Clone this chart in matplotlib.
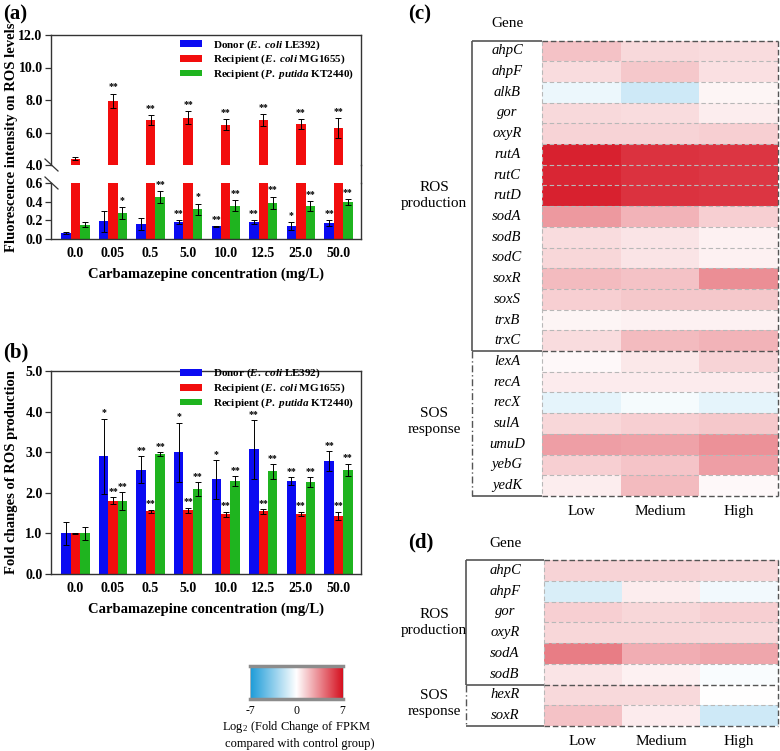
import numpy as np
import matplotlib
matplotlib.use('Agg')
import matplotlib.pyplot as plt
from matplotlib.colors import LinearSegmentedColormap
from matplotlib.patches import Patch
from matplotlib.lines import Line2D

plt.rcParams['font.family'] = ['Liberation Serif', 'DejaVu Serif']
plt.rcParams['mathtext.fontset'] = 'custom'
plt.rcParams['mathtext.rm'] = 'Liberation Serif:bold'
plt.rcParams['mathtext.it'] = 'Liberation Serif:italic:bold'
plt.rcParams['mathtext.bf'] = 'Liberation Serif:bold'
plt.rcParams['mathtext.sf'] = 'Liberation Serif'

# ---------------- data ----------------
concentrations = ['0.0', '0.05', '0.5', '5.0', '10.0', '12.5', '25.0', '50.0']
series_labels = [r'Donor ($\mathit{E.\ coli}$ LE392)',
                 r'Recipient ($\mathit{E.\ coli}$ MG1655)',
                 r'Recipient ($\mathit{P.\ putida}$ KT2440)']
series_colors = ['#0b0bf2', '#f20d0d', '#1fb41f']

# (a) fluorescence intensity on ROS levels
a_donor = [0.065, 0.19, 0.16, 0.18, 0.135, 0.18, 0.14, 0.17]
a_donor_err = [0.015, 0.11, 0.06, 0.02, 0.005, 0.02, 0.04, 0.03]
a_donor_sig = ['', '', '', '**', '**', '**', '*', '**']
a_mg = [4.4, 7.95, 6.78, 6.9, 6.48, 6.78, 6.52, 6.28]
a_mg_err = [0.1, 0.45, 0.3, 0.4, 0.35, 0.35, 0.3, 0.6]
a_mg_sig = ['', '**', '**', '**', '**', '**', '**', '**']
a_kt = [0.155, 0.28, 0.45, 0.32, 0.355, 0.39, 0.35, 0.395]
a_kt_err = [0.025, 0.065, 0.065, 0.06, 0.06, 0.065, 0.055, 0.035]
a_kt_sig = ['', '*', '**', '*', '**', '**', '**', '**']

# (b) fold changes of ROS production
b_donor = [1.0, 2.9, 2.57, 3.0, 2.33, 3.07, 2.29, 2.78]
b_donor_err = [0.28, 0.93, 0.33, 0.73, 0.48, 0.72, 0.1, 0.25]
b_donor_sig = ['', '*', '**', '*', '*', '**', '**', '**']
b_mg = [1.0, 1.81, 1.54, 1.57, 1.47, 1.54, 1.48, 1.43]
b_mg_err = [0.02, 0.08, 0.04, 0.06, 0.06, 0.05, 0.05, 0.1]
b_mg_sig = ['', '**', '**', '**', '**', '**', '**', '**']
b_kt = [1.0, 1.8, 2.95, 2.09, 2.29, 2.53, 2.27, 2.57]
b_kt_err = [0.16, 0.22, 0.05, 0.17, 0.12, 0.18, 0.12, 0.15]
b_kt_sig = ['', '**', '**', '**', '**', '**', '**', '**']

# (c) heatmap, log2 fold change
levels = ['Low', 'Medium', 'High']
c_genes = ['ahpC', 'ahpF', 'alkB', 'gor', 'oxyR', 'rutA', 'rutC', 'rutD', 'sodA',
           'sodB', 'sodC', 'soxR', 'soxS', 'trxB', 'trxC',
           'lexA', 'recA', 'recX', 'sulA', 'umuD', 'yebG', 'yedK']
c_n_ros = 15
c_low = [1.8, 1.0, -0.6, 1.1, 1.3, 6.5, 6.3, 6.5, 3.0, 1.0, 1.2, 2.0, 1.4, 0.3, 1.0,
         0.2, 0.6, -0.8, 1.2, 2.8, 1.4, 0.5]
c_medium = [1.1, 1.6, -1.5, 1.0, 1.3, 6.0, 6.0, 6.0, 2.2, 0.8, 0.8, 1.8, 1.6, 0.4, 2.0,
            0.7, 0.6, -0.3, 1.4, 2.7, 1.7, 2.0]
c_high = [1.0, 0.9, 0.3, 0.5, 1.4, 5.9, 5.8, 5.9, 1.4, 0.4, 0.4, 3.3, 1.6, 0.4, 2.2,
          1.3, 0.6, -0.8, 1.6, 3.2, 2.8, 0.2]

# (d) heatmap, log2 fold change
d_genes = ['ahpC', 'ahpF', 'gor', 'oxyR', 'sodA', 'sodB', 'hexR', 'soxR']
d_n_ros = 6
d_low = [1.3, -1.2, 1.4, 1.2, 3.8, 0.8, 1.1, 1.8]
d_medium = [1.3, 0.5, 1.2, 1.2, 2.4, 0.4, 1.1, 0.6]
d_high = [1.2, -0.4, 1.4, 1.1, 2.6, -0.2, 0.0, -1.5]

# ---------------- figure ----------------
W, H = 780, 751
fig = plt.figure(figsize=(W / 100, H / 100), dpi=100)


def fx(x):
    return x / W


def fy(y):
    return 1 - y / H


def rect(l, t, r, b):
    return [fx(l), fy(b), fx(r) - fx(l), fy(t) - fy(b)]


SP = '#333333'
x = np.arange(len(concentrations))
bw = 0.25
offsets = [-bw, 0, bw]
ekw = dict(ecolor='black', elinewidth=0.7, capsize=2, capthick=0.7)


def style_axis(ax):
    for s in ax.spines.values():
        s.set_color(SP)
        s.set_linewidth(1.0)
    ax.tick_params(axis='y', direction='out', length=4, width=0.9, color=SP,
                   labelsize=10, pad=2)
    ax.tick_params(axis='x', length=0, labelsize=10, pad=6)
    for lab in ax.get_yticklabels() + ax.get_xticklabels():
        lab.set_fontweight('bold')
    ax.set_xlim(-0.65, 7.6)


leg_handles = [Patch(facecolor=c, edgecolor='none') for c in series_colors]
leg_kw = dict(loc='upper left', frameon=False, borderpad=0, borderaxespad=0,
              handlelength=2.0, handleheight=0.55, handletextpad=1.0,
              labelspacing=0.12,
              prop=dict(family='Liberation Serif', weight='bold', size=8))

# ----- panel (a) -----
ax_top = fig.add_axes(rect(51, 35, 361, 165))
ax_bot = fig.add_axes(rect(51, 183, 361, 239))
a_vals = [a_donor, a_mg, a_kt]
a_errs = [a_donor_err, a_mg_err, a_kt_err]
a_sigs = [a_donor_sig, a_mg_sig, a_kt_sig]
for ax in (ax_top, ax_bot):
    for k in range(3):
        ax.bar(x + offsets[k], a_vals[k], bw, color=series_colors[k],
               yerr=a_errs[k], error_kw=ekw, zorder=2)
for k in range(3):
    for i in range(len(x)):
        if a_sigs[k][i]:
            v = a_vals[k][i] + a_errs[k][i]
            ax = ax_top if a_vals[k][i] > 4 else ax_bot
            ax.annotate(a_sigs[k][i], (x[i] + offsets[k], v), xytext=(0, 1.5),
                        textcoords='offset points', ha='center', va='bottom',
                        fontsize=7, fontweight='bold')
ax_top.set_ylim(4, 12)
ax_top.set_yticks([4, 6, 8, 10, 12])
ax_top.set_yticklabels(['%.1f' % t for t in [4, 6, 8, 10, 12]])
ax_top.set_xticks([])
ax_top.spines['bottom'].set_visible(False)
ax_bot.set_ylim(0, 0.6)
ax_bot.set_yticks([0, 0.2, 0.4, 0.6])
ax_bot.set_yticklabels(['%.1f' % t for t in [0, 0.2, 0.4, 0.6]])
ax_bot.set_xticks(x)
ax_bot.set_xticklabels(concentrations)
ax_bot.spines['top'].set_visible(False)
style_axis(ax_top)
style_axis(ax_bot)
ax_bot.set_xlabel('Carbamazepine concentration (mg/L)', fontsize=10.5,
                  fontweight='bold', labelpad=5)
# continuous right spine across break, break marks on left spine
fig.add_artist(Line2D([fx(361), fx(361)], [fy(165), fy(183)], color=SP, lw=1.0))
for yy in (165, 183):
    fig.add_artist(Line2D([fx(45), fx(58)], [fy(yy - 6), fy(yy + 6)], color=SP, lw=0.9))
fig.text(fx(12), fy(137), 'Fluorescence intensity on ROS levels', rotation=90,
         ha='center', va='center', fontsize=10.5, fontweight='bold')
fig.legend(leg_handles, series_labels, bbox_to_anchor=(fx(180), fy(38)), **leg_kw)
fig.text(fx(3), fy(14), '(a)', fontsize=15, fontweight='bold', va='center')

# ----- panel (b) -----
ax_b = fig.add_axes(rect(51, 371, 361, 574))
b_vals = [b_donor, b_mg, b_kt]
b_errs = [b_donor_err, b_mg_err, b_kt_err]
b_sigs = [b_donor_sig, b_mg_sig, b_kt_sig]
for k in range(3):
    ax_b.bar(x + offsets[k], b_vals[k], bw, color=series_colors[k],
             yerr=b_errs[k], error_kw=ekw, zorder=2)
    for i in range(len(x)):
        if b_sigs[k][i]:
            ax_b.annotate(b_sigs[k][i], (x[i] + offsets[k], b_vals[k][i] + b_errs[k][i]),
                          xytext=(0, 1.0), textcoords='offset points', ha='center',
                          va='bottom', fontsize=7, fontweight='bold')
ax_b.set_ylim(0, 5)
ax_b.set_yticks([0, 1, 2, 3, 4, 5])
ax_b.set_yticklabels(['%.1f' % t for t in range(6)])
ax_b.set_xticks(x)
ax_b.set_xticklabels(concentrations)
style_axis(ax_b)
ax_b.set_xlabel('Carbamazepine concentration (mg/L)', fontsize=10.5,
                fontweight='bold', labelpad=5)
fig.text(fx(12), fy(472), 'Fold changes of ROS production', rotation=90,
         ha='center', va='center', fontsize=10.5, fontweight='bold')
fig.legend(leg_handles, series_labels, bbox_to_anchor=(fx(180), fy(367)), **leg_kw)
fig.text(fx(3), fy(352), '(b)', fontsize=15, fontweight='bold', va='center')

# ----- heatmaps -----
cmap = LinearSegmentedColormap.from_list('bwr_fc', ['#1b9bd8', '#ffffff', '#d5101f'])
DARK = '#555555'
LIGHT = '#b8b8b8'


def heatmap(l, t, gl, r, b, genes, cols, n_ros, label_x, panel_label, panel_y):
    ax = fig.add_axes(rect(l, t, r, b))
    n = len(genes)
    colw = (r - gl) / 3.0
    gw = (gl - l) / colw
    vals = np.array(cols).T
    ax.pcolormesh(np.arange(4), np.arange(n + 1), vals, cmap=cmap, vmin=-7, vmax=7)
    ax.set_xlim(-gw, 3)
    ax.set_ylim(n, 0)
    ax.axis('off')
    kw = dict(clip_on=False, solid_capstyle='butt')
    for i, g in enumerate(genes):
        ax.text(-gw / 2, i + 0.5, g, ha='center', va='center', fontsize=10.5,
                fontstyle='italic')
    # light separators
    for i in range(1, n):
        if i != n_ros:
            ax.plot([0, 3], [i, i], color=LIGHT, lw=0.8, ls=(0, (4, 2.5)), **kw)
    ax.plot([0, 0], [0, n], color=LIGHT, lw=0.8, ls=(0, (4, 2.5)), **kw)
    # gene column frame
    ax.plot([-gw, -gw], [0, n_ros], color=DARK, lw=1.2, **kw)
    ax.plot([-gw, -gw], [n_ros, n], color=DARK, lw=1.0, ls=(0, (5, 2, 1, 2)), **kw)
    for yy in (0, n_ros, n):
        ax.plot([-gw, 0], [yy, yy], color=DARK, lw=1.2, **kw)
        ax.plot([0, 3], [yy, yy], color=DARK, lw=1.0, ls=(0, (4, 2)), **kw)
    ax.plot([3, 3], [0, n], color=DARK, lw=1.0, ls=(0, (4, 2)), **kw)
    # text labels
    ax.text(-gw / 2, -0.5, 'Gene', ha='center', va='bottom', fontsize=11)
    for j, lev in enumerate(levels):
        ax.text(j + 0.5, n + 0.45, lev, ha='center', va='top', fontsize=11)
    ax.text(label_x, n_ros / 2, 'ROS\nproduction', ha='center', va='center',
            fontsize=11, linespacing=1.3, clip_on=False)
    ax.text(label_x, (n_ros + n) / 2 - 0.1, 'SOS\nresponse', ha='center', va='center',
            fontsize=11, linespacing=1.3, clip_on=False)
    fig.text(fx(408), fy(panel_y), panel_label, fontsize=15, fontweight='bold',
             va='center')
    return ax


def xdata(px, l, gl, r):
    colw = (r - gl) / 3.0
    return (px - gl) / colw


heatmap(472, 40.5, 542, 778, 496, c_genes, [c_low, c_medium, c_high], c_n_ros,
        xdata(434, 472, 542, 778), '(c)', 14)
heatmap(466, 560, 544, 778, 726, d_genes, [d_low, d_medium, d_high], d_n_ros,
        xdata(434, 466, 544, 778), '(d)', 542)

# ----- colour bar -----
cax = fig.add_axes(rect(250, 666, 343, 699))
grad = np.linspace(-7, 7, 256).reshape(1, -1)
cax.imshow(grad, aspect='auto', cmap=cmap, vmin=-7, vmax=7, extent=[-7, 7, 0, 1])
cax.set_xticks([])
cax.set_yticks([])
for s in ('top', 'bottom'):
    cax.spines[s].set_color('#8c8c8c')
    cax.spines[s].set_linewidth(2.5)
for s in ('left', 'right'):
    cax.spines[s].set_color('#bbbbbb')
    cax.spines[s].set_linewidth(0.6)
for val, px in ((-7, 250), (0, 297), (7, 342)):
    fig.text(fx(px), fy(711), str(val), ha='center', va='center', fontsize=8.5)
fig.text(fx(296), fy(727), r'Log$_\mathsf{2}$ (Fold Change of FPKM', ha='center',
         va='center', fontsize=9)
fig.text(fx(300), fy(744), 'compared with control group)', ha='center',
         va='center', fontsize=9)

fig.savefig('out.png', dpi=100)
